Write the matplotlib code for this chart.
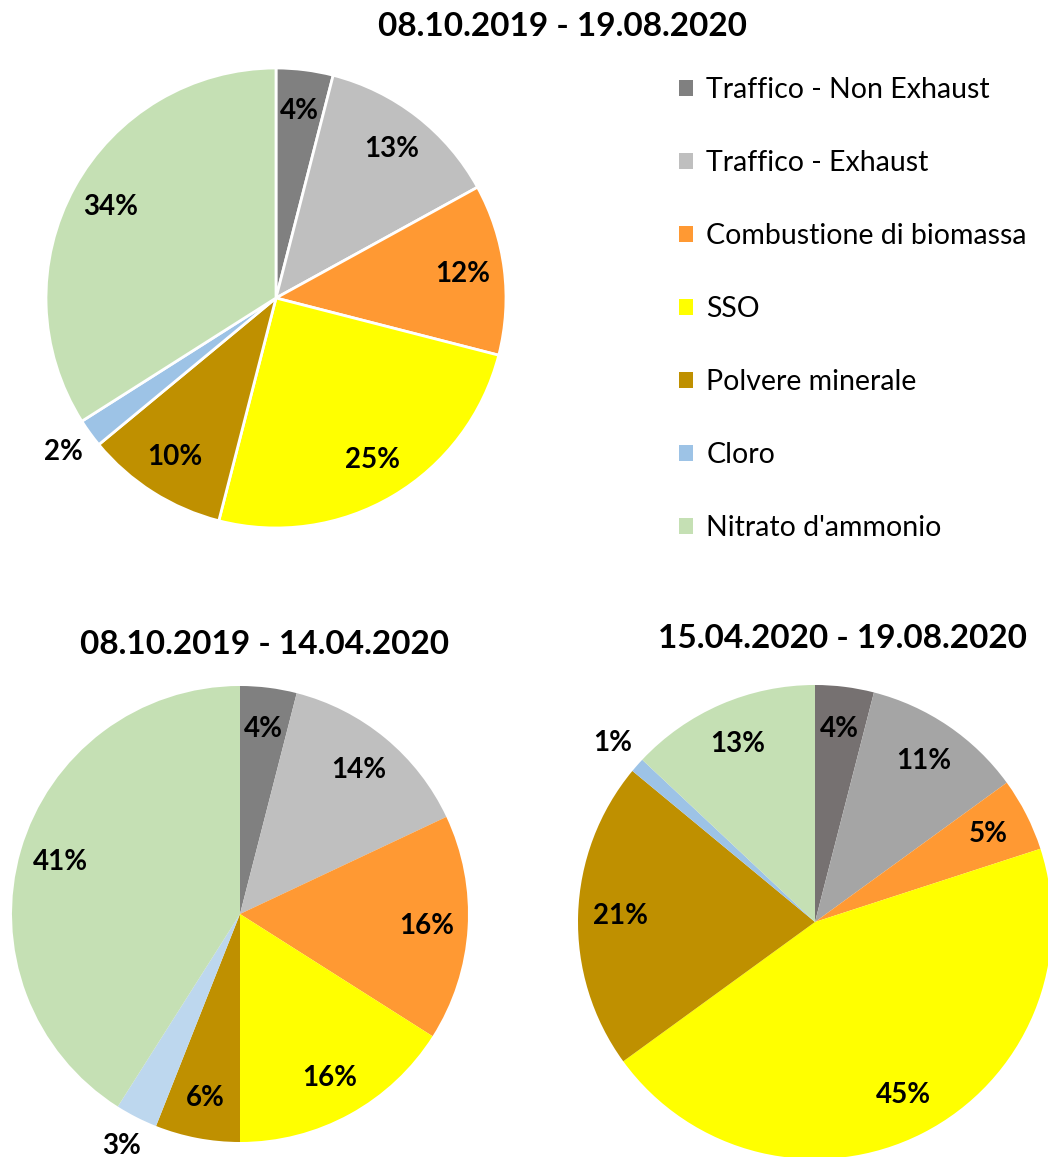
import numpy as np
import matplotlib
matplotlib.use("Agg")
import matplotlib.pyplot as plt
from matplotlib.patches import Patch

plt.rcParams['font.family'] = ['Lato', 'DejaVu Sans']

categorie = ["Traffico - Non Exhaust", "Traffico - Exhaust", "Combustione di biomassa",
             "SSO", "Polvere minerale", "Cloro", "Nitrato d'ammonio"]

titolo_tot = "08.10.2019 - 19.08.2020"
titolo_inv = "08.10.2019 - 14.04.2020"
titolo_est = "15.04.2020 - 19.08.2020"

valori_tot = [4, 13, 12, 25, 10, 2, 34]
valori_inv = [4, 14, 16, 16, 6, 3, 41]
valori_est = [4, 11, 5, 45, 21, 1, 13]

colori_tot = ["#808080", "#BFBFBF", "#FF9933", "#FFFF00", "#BF9000", "#9DC3E6", "#C5E0B4"]
colori_inv = ["#808080", "#BFBFBF", "#FF9933", "#FFFF00", "#BF9000", "#BDD7EE", "#C5E0B4"]
colori_est = ["#767171", "#A5A5A5", "#FF9933", "#FFFF00", "#BF9000", "#9DC3E6", "#C5E0B4"]

W, H = 1048, 1157
fig = plt.figure(figsize=(W / 100, H / 100), dpi=100)


def torta(valori, colori, cx, cy, r, x0, x1, y0, y1, bordo):
    # assi in pixel (origine in alto a sinistra)
    ax = fig.add_axes([x0 / W, 1 - y1 / H, (x1 - x0) / W, (y1 - y0) / H])
    wedges, _ = ax.pie(valori, colors=colori, startangle=90, counterclock=False,
                       radius=1, wedgeprops=dict(edgecolor="white", linewidth=bordo))
    ax.set_xlim((x0 - cx) / r, (x1 - cx) / r)
    ax.set_ylim((cy - y1) / r, (cy - y0) / r)
    ax.set_aspect("equal")
    ax.axis("off")
    for w, v in zip(wedges, valori):
        ang = np.deg2rad((w.theta1 + w.theta2) / 2)
        d = 1.14 if v <= 3 else 0.82
        ax.text(d * np.cos(ang), d * np.sin(ang), f"{v}%", ha="center", va="center",
                fontsize=20, fontweight="bold", color="black", clip_on=False)
    return ax


torta(valori_tot, colori_tot, 276, 298, 230, 40, 512, 62, 534, 2.0)
torta(valori_inv, colori_inv, 240, 914, 228, 6, 474, 680, 1150, 0)
torta(valori_est, colori_est, 815, 922, 237, 580, 1048, 685, 1157, 0)

fig.text(562 / W, 1 - 27 / H, titolo_tot, ha="center", va="center", fontsize=24, fontweight="bold")
fig.text(265 / W, 1 - 645 / H, titolo_inv, ha="center", va="center", fontsize=24, fontweight="bold")
fig.text(843 / W, 1 - 638 / H, titolo_est, ha="center", va="center", fontsize=24, fontweight="bold")

maniglie = [Patch(facecolor=c, edgecolor="none") for c in colori_tot]
fig.legend(maniglie, categorie, loc="upper left", bbox_to_anchor=(665 / W, 1 - 63 / H),
           frameon=False, fontsize=20.5, handlelength=0.5, handleheight=0.5,
           handletextpad=0.45, labelspacing=1.65, borderpad=0)

fig.savefig("out.png", dpi=100)
